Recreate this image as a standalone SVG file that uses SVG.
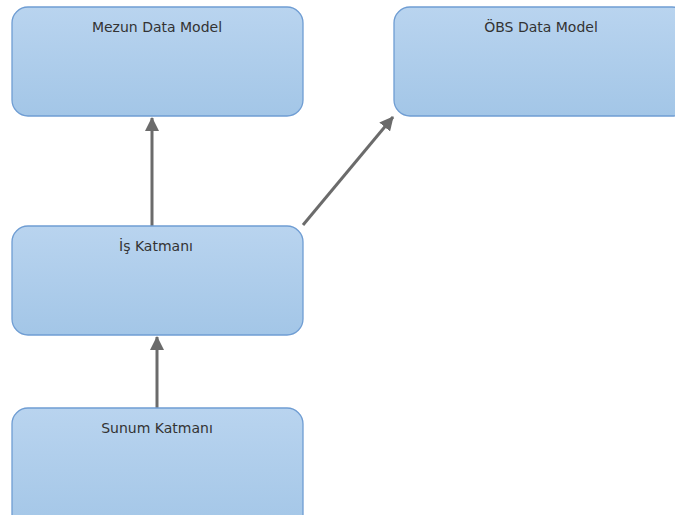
<svg xmlns="http://www.w3.org/2000/svg" width="675" height="515" viewBox="0 0 675 515">
  <defs>
    <linearGradient id="boxFill" x1="0" y1="0" x2="0" y2="1">
      <stop offset="0" stop-color="#b9d4ef"/>
      <stop offset="1" stop-color="#a3c6e7"/>
    </linearGradient>
    <marker id="arrow" viewBox="0 0 14 14" refX="13" refY="7" markerWidth="14" markerHeight="14" markerUnits="userSpaceOnUse" orient="auto">
      <path d="M0,0 L14,7 L0,14 Z" fill="#6b6b6b"/>
    </marker>
    <style>
      .box { fill: url(#boxFill); stroke: #6f9dd3; stroke-width: 1.3; }
      .label { font-family: "DejaVu Sans", "Liberation Sans", sans-serif; font-size: 14px; fill: #333; text-anchor: middle; }
      .link { stroke: #6b6b6b; stroke-width: 3; fill: none; marker-end: url(#arrow); }
    </style>
  </defs>

  <rect width="675" height="515" fill="#ffffff"/>

  <g id="connectors">
    <line class="link" x1="152" y1="226" x2="152" y2="118"/>
    <line class="link" x1="303" y1="225" x2="393" y2="117"/>
    <line class="link" x1="157" y1="408" x2="157" y2="337"/>
  </g>

  <g id="mezun-data-model">
    <rect class="box" x="12" y="7" width="291" height="109" rx="16"/>
    <text class="label" x="157" y="32">Mezun Data Model</text>
  </g>

  <g id="obs-data-model">
    <rect class="box" x="394" y="7" width="294" height="109" rx="16"/>
    <text class="label" x="541" y="32">ÖBS Data Model</text>
  </g>

  <g id="is-katmani">
    <rect class="box" x="12" y="226" width="291" height="109" rx="16"/>
    <text class="label" x="156" y="251">İş Katmanı</text>
  </g>

  <g id="sunum-katmani">
    <rect class="box" x="12" y="408" width="291" height="124" rx="16"/>
    <text class="label" x="157" y="433">Sunum Katmanı</text>
  </g>
</svg>
